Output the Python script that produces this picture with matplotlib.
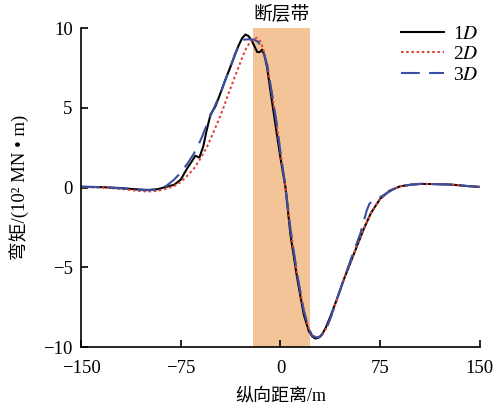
import matplotlib
matplotlib.use("Agg")
import matplotlib.pyplot as plt

plt.rcParams["font.family"] = ["Liberation Serif", "Noto Sans CJK SC"]
plt.rcParams["mathtext.fontset"] = "stix"
plt.rcParams["axes.unicode_minus"] = True

# 1D curve
x1 = [-150, -135, -120, -110, -100, -92, -86, -80, -75, -70, -67, -64, -61, -58, -55.5, -52.6, -48.9, -45,
      -41.4, -37.5, -33.8, -31, -28.8, -26.3, -24, -21.5, -19.5, -17.5, -15.5, -13.8, -12, -10, -7.5, -3.8, 0,
      3.8, 7.5, 12.5, 17.5, 21.3, 24, 26.3, 29, 31.3, 34, 37.6, 42, 47.6, 55, 62.6, 68, 75, 82, 90,
      98, 105, 115, 128, 140, 150]
y1 = [0.05, 0.03, -0.03, -0.1, -0.15, -0.1, 0.05, 0.17, 0.5, 1.23, 1.6, 2.0, 1.88, 2.6, 3.6, 4.58, 5.1, 5.95,
      6.77, 7.6, 8.44, 9.0, 9.38, 9.6, 9.5, 9.2, 8.85, 8.5, 8.5, 8.65, 8.3, 7.5, 6.04, 3.95, 1.86,
      -0.02, -2.95, -5.66, -7.96, -9.0, -9.35, -9.47, -9.4, -9.2, -8.8, -8.07, -7.1, -5.77, -4.2, -2.6,
      -1.6, -0.7, -0.2, 0.08, 0.18, 0.23, 0.22, 0.19, 0.1, 0.04]

# 2D curve
x2 = [-150, -135, -120, -110, -100, -92, -85, -80, -75, -70, -65, -60, -55, -50.5, -46.4, -42.5, -38.9, -35,
      -31.3, -28.8, -26.3, -23.8, -21.3, -19.5, -17.5, -15, -13, -10, -7, -3, 0, 3.5, 7.5, 12.5, 17.5, 21.5,
      24, 27, 30, 32, 35, 38, 42, 47.6, 55, 62.6, 68, 75, 82, 90, 98, 105, 115, 128, 140, 150]
y2 = [0.03, 0.0, -0.08, -0.18, -0.25, -0.2, -0.05, 0.1, 0.35, 0.75, 1.2, 1.85, 2.6, 3.45, 4.26, 5.1, 5.94, 6.8,
      7.6, 8.15, 8.65, 9.0, 9.28, 9.36, 9.38, 9.15, 8.7, 7.7, 6.2, 4.1, 2.2, 0.2, -2.6, -5.4, -7.7, -8.9,
      -9.3, -9.4, -9.35, -9.15, -8.75, -8.1, -7.1, -5.77, -4.2, -2.6, -1.6, -0.7, -0.2, 0.08, 0.18, 0.23,
      0.22, 0.19, 0.1, 0.04]

# 3D curve
x3 = [-150, -135, -120, -110, -100, -92, -86, -80, -75, -70, -66.4, -62.6, -58.9, -53.9, -48.9, -45, -41.4,
      -37.5, -33.8, -31, -27.6, -23.8, -20, -17, -15, -13, -10, -7, -3, 0, 3.5, 7.5, 12.5, 17.5, 21.5, 24,
      27, 30, 32, 35, 38, 42, 47.6, 55, 60, 63, 65, 67, 70, 75, 80, 85, 90, 98, 105, 115, 128, 140, 150]
y3 = [0.05, 0.03, -0.05, -0.12, -0.17, -0.12, 0.1, 0.5, 0.94, 1.5, 1.96, 2.5, 3.2, 4.26, 5.2, 5.95, 6.77,
      7.6, 8.44, 9.0, 9.28, 9.3, 9.28, 9.15, 8.9, 8.5, 7.7, 6.2, 4.1, 2.2, 0.2, -2.6, -5.4, -7.7, -8.9,
      -9.3, -9.4, -9.35, -9.15, -8.75, -8.1, -7.1, -5.77, -4.0, -2.9, -2.0, -1.4, -1.0, -0.8, -0.6, -0.35,
      -0.1, 0.08, 0.18, 0.23, 0.22, 0.19, 0.1, 0.04]

fault_zone = (-21, 22)
xticks = [-150, -75, 0, 75, 150]
yticks = [-10, -5, 0, 5, 10]

fig = plt.figure(figsize=(5.01, 4.08), dpi=100)
ax = fig.add_axes([0.1617, 0.1495, 0.7963, 0.7815])

ax.axvspan(fault_zone[0], fault_zone[1], color="#f2c497", lw=0, zorder=0)
ax.text(sum(fault_zone) / 2, 10.25, "断层带", ha="center", va="bottom", fontsize=13.5)

ax.plot(x1, y1, color="black", lw=1.5, label="1$D$")
ax.plot(x2, y2, color="#e0453a", lw=1.5, ls=(0, (1.2, 1.3)), label="2$D$")
ax.plot(x3, y3, color="#3b4fa0", lw=1.5, ls=(0, (9, 4.5)), label="3$D$")

ax.set_xlim(-150, 150)
ax.set_ylim(-10, 10)
ax.set_xticks(xticks)
ax.set_yticks(yticks)
ax.tick_params(direction="in", length=5, width=1.2, labelsize=13.5)
ax.tick_params(axis="x", pad=9)
ax.tick_params(axis="y", pad=6)
for s in ["top", "right"]:
    ax.spines[s].set_visible(False)
for s in ["left", "bottom"]:
    ax.spines[s].set_linewidth(1.2)

ax.set_xlabel("纵向距离/m", fontsize=13, labelpad=8)
ax.set_ylabel("弯矩/(10² MN • m)", fontsize=13.5, labelpad=10)

ax.legend(loc="upper right", frameon=False, fontsize=14, handlelength=2.2,
          bbox_to_anchor=(1.04, 1.065), labelspacing=0.15, handletextpad=0.45)

fig.savefig("out.png", dpi=100)
